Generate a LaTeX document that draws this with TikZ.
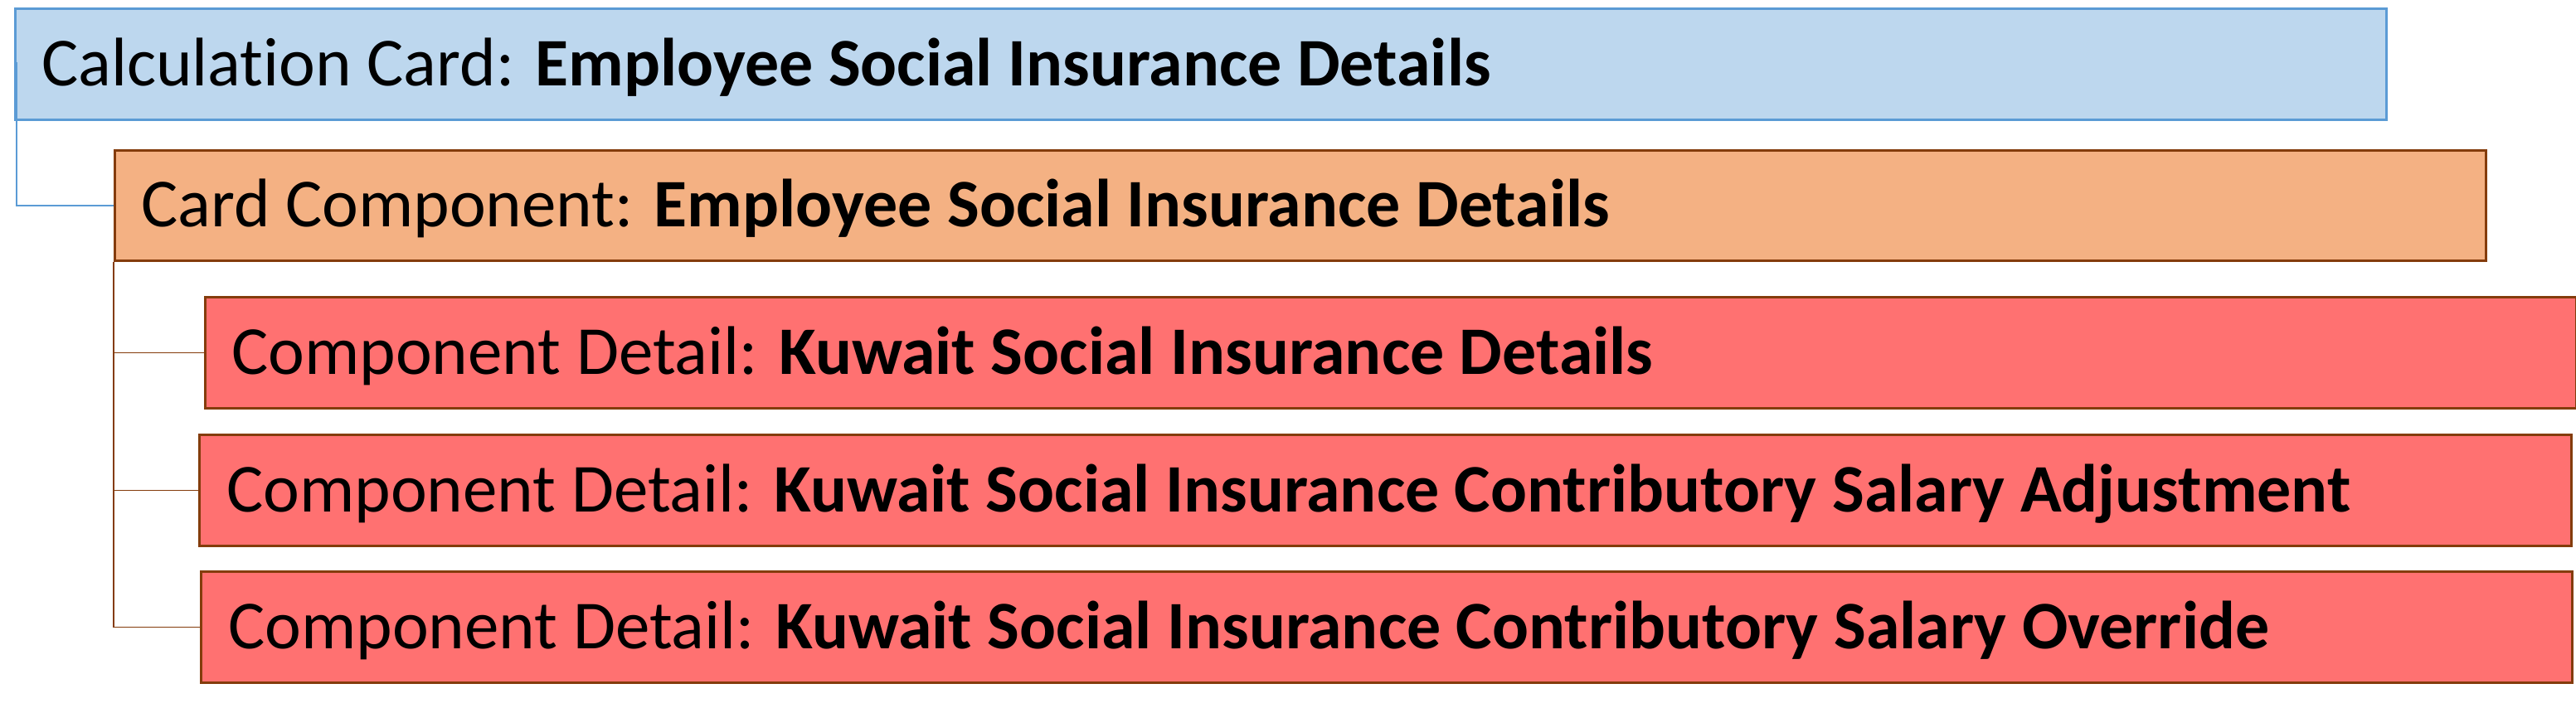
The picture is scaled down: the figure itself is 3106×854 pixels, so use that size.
\documentclass[tikz,border=0pt]{standalone}
\usepackage{fontspec}
\setmainfont[Ligatures={NoCommon,NoRare,NoDiscretionary}]{Carlito}
\usetikzlibrary{calc}
\definecolor{bluefill}{HTML}{BDD7EE}
\definecolor{blueline}{HTML}{5B9BD5}
\definecolor{orangefill}{HTML}{F4B183}
\definecolor{brownline}{HTML}{843C0C}
\definecolor{redfill}{HTML}{FF7171}
\newcommand{\bpart}[1]{{\fontsize{82}{100}\selectfont\bfseries #1}}
\begin{document}
\begin{tikzpicture}[x=1pt,y=1pt,
  cardbox/.style={draw=blueline, fill=bluefill, line width=2.8pt, anchor=north west, inner sep=0pt, minimum height=134pt},
  compbox/.style={draw=brownline, fill=orangefill, line width=2.8pt, anchor=north west, inner sep=0pt, minimum height=133pt},
  detbox/.style={draw=brownline, fill=redfill, line width=2.8pt, anchor=north west, inner sep=0pt, minimum height=134pt},
  lbl/.style={anchor=base west, inner sep=0pt, font=\fontsize{83}{100}\selectfont},
  blueconn/.style={draw=blueline, line width=1.6pt},
  brownconn/.style={draw=brownline, line width=1.8pt}]
\useasboundingbox (0,0) rectangle (3106,-854);
% boxes
\node[cardbox, minimum width=2859pt] (cc) at (17,-9) {};
\node[compbox, minimum width=2859pt] (cp) at (137,-180) {};
\node[detbox, minimum width=2859pt] (d1) at (246,-357) {};
\node[detbox, minimum width=2860pt] (d2) at (239,-523) {};
\node[detbox, minimum width=2859pt] (d3) at (241,-688) {};
% labels
\node[lbl] (cct) at ($(cc.west)+(33,-26)$) {Calculation Card: \bpart{Employee Social Insurance Details}};
\node[lbl] (cpt) at ($(cp.west)+(33,-26)$) {Card Component: \bpart{Employee Social Insurance Details}};
\node[lbl] (d1t) at ($(d1.west)+(33,-26)$) {Component Detail: \bpart{Kuwait Social Insurance Details}};
\node[lbl] (d2t) at ($(d2.west)+(34,-26)$) {Component Detail: \bpart{Kuwait Social Insurance Contributory Salary Adjustment}};
\node[lbl] (d3t) at ($(d3.west)+(34,-26)$) {Component Detail: \bpart{Kuwait Social Insurance Contributory Salary Override}};
% connectors
\coordinate (cctop) at (20,-75);
\draw[blueconn] (cctop) |- (cp.west);
\draw[brownconn] (cp.south west) |- (d3.west);
\draw[brownconn] (cp.south west |- d1.west) -- (d1.west);
\draw[brownconn] (cp.south west |- d2.west) -- (d2.west);
\end{tikzpicture}
\end{document}
